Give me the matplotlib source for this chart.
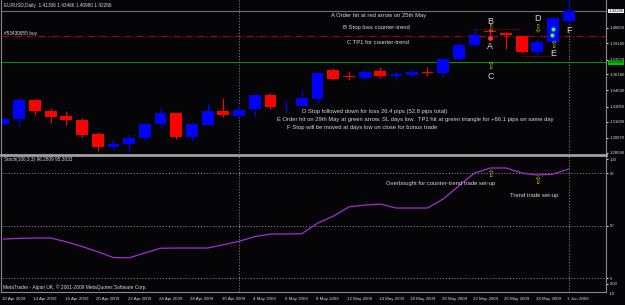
import matplotlib
matplotlib.use('Agg')
import matplotlib.pyplot as plt

plt.rcParams['font.family'] = ['Liberation Sans', 'DejaVu Sans']

# daily EURUSD bars, 10 Apr 2009 .. 1 Jun 2009
opens = [1.3138, 1.3186, 1.3369, 1.3263, 1.3215, 1.3176, 1.3042, 1.2916, 1.2945, 1.3003,
         1.3138, 1.3244, 1.3013, 1.3128, 1.3263, 1.3215, 1.3282, 1.3417, 1.3311, 1.3311,
         1.3379, 1.3658, 1.3600, 1.3585, 1.3645, 1.3600, 1.3610, 1.3640, 1.3629, 1.3764,
         1.3899, 1.4030, 1.4015, 1.3986, 1.3832, 1.3928, 1.41306]
highs = [1.3196, 1.3388, 1.3379, 1.3292, 1.3263, 1.3196, 1.3061, 1.2993, 1.3042, 1.3148,
         1.3292, 1.3250, 1.3157, 1.3340, 1.3388, 1.3321, 1.3420, 1.3437, 1.3369, 1.3475,
         1.3639, 1.3678, 1.3650, 1.3660, 1.3685, 1.3650, 1.3670, 1.3690, 1.3770, 1.3918,
         1.4053, 1.4053, 1.4024, 1.3995, 1.3957, 1.4169, 1.43466]
lows = [1.3128, 1.3119, 1.3224, 1.3148, 1.3128, 1.3013, 1.2878, 1.2897, 1.2878, 1.2984,
        1.3099, 1.2993, 1.2974, 1.3125, 1.3205, 1.3210, 1.3205, 1.3282, 1.3244, 1.3305,
        1.3340, 1.3562, 1.3560, 1.3560, 1.3580, 1.3560, 1.3590, 1.3600, 1.3591, 1.3755,
        1.3890, 1.3990, 1.3861, 1.3822, 1.3803, 1.3920, 1.40980]
closes = [1.3186, 1.3369, 1.3263, 1.3205, 1.3176, 1.3032, 1.2916, 1.2945, 1.3003, 1.3138,
          1.3244, 1.3013, 1.3138, 1.3263, 1.3224, 1.3273, 1.3417, 1.3302, 1.3313, 1.3388,
          1.3629, 1.3572, 1.3590, 1.3640, 1.3605, 1.3615, 1.3640, 1.3630, 1.3764, 1.3899,
          1.3995, 1.4020, 1.3995, 1.3832, 1.3928, 1.4159, 1.42266]

stoch = [38.4, 39.0, 39.3, 39.3, 36.0, 32.0, 27.5, 22.5, 22.3, 26.5,
         30.5, 30.7, 30.7, 30.7, 33.5, 36.5, 40.5, 42.7, 42.7, 43.0,
         52.0, 58.0, 66.0, 67.5, 68.4, 65.0, 65.0, 65.0, 72.7, 84.0,
         95.0, 99.3, 99.3, 95.0, 93.3, 94.1, 98.4]

date_labels = ['10 Apr 2009', '14 Apr 2009', '16 Apr 2009', '20 Apr 2009', '22 Apr 2009',
               '24 Apr 2009', '28 Apr 2009', '30 Apr 2009', '4 May 2009', '6 May 2009',
               '8 May 2009', '12 May 2009', '14 May 2009', '18 May 2009', '20 May 2009',
               '22 May 2009', '26 May 2009', '28 May 2009', '1 Jun 2009']

price_ticks = [1.40650, 1.39160, 1.37570, 1.36180, 1.34630, 1.33050, 1.31600, 1.30070, 1.28590]
bid = 1.42266
tp_line = 1.37325
order_line = 1.3986
stoch_levels = [95, 50, 5]

W, H = 625, 305
BG = '#050508'
GREY = '#8a8a8a'
TXT = '#d8d8d8'
R = 606  # right edge of the chart area in pixels


def fx(px):
    return px / W


def fy(py):
    return 1 - py / H


fig = plt.figure(figsize=(6.25, 3.05), dpi=100, facecolor=BG)
ax1 = fig.add_axes([fx(2), fy(153), fx(R - 2), 153 / H], facecolor=BG)
ax2 = fig.add_axes([fx(2), fy(292), fx(R - 2), (292 - 156) / H], facecolor=BG)

n = len(opens)
xs = list(range(n))
for ax in (ax1, ax2):
    ax.set_xlim(-0.1, (R - 2) / 15.7 - 0.1)
    for s in ax.spines.values():
        s.set_visible(False)
    ax.set_xticks([])
    ax.tick_params(axis='y', colors=TXT, labelsize=3.1, length=1.5, pad=1.0,
                   left=False, labelleft=False, right=True, labelright=True)
    # month separators
    ax.axvline(15, color=GREY, lw=0.6, ls=(0, (1.5, 2)))
    ax.axvline(36, color=GREY, lw=0.6, ls=(0, (1.5, 2)))

ax1.set_ylim(1.28586, 1.43326)
ax2.set_ylim(-7, 109.6)

# candles
for i in xs:
    o, h, l, c = opens[i], highs[i], lows[i], closes[i]
    col = '#0000ff' if c >= o else '#ff0000'
    ax1.vlines(i, l, h, color=col, lw=0.8, zorder=2)
    ax1.bar(i, max(abs(c - o), 0.0003), bottom=min(o, c), width=0.75,
            color=col, zorder=3)

# lines on the price chart
ax1.axhline(bid, color='#707070', lw=0.8, zorder=1)
ax1.axhline(order_line, color='#b00000', lw=0.8, ls=(0, (6, 2, 1, 2)), zorder=1)
ax1.axhline(tp_line, color='#00b000', lw=0.6, zorder=1)
ax1.hlines(1.4053, 30, 32.9, color='#c00000', lw=0.7, ls=(0, (1, 1.5)))
ax1.hlines(1.3793, 33, 34.9, color='#c00000', lw=0.7, ls=(0, (1, 1.5)))
ax1.plot([31], [1.3967], 'o', color='#ff3030', ms=2.5, zorder=5)
ax1.plot([35, 34.95], [1.4053, 1.3995], 'o', color='#40ff40', ms=2, zorder=5)

arrow_col = '#b8b800'
let = dict(color=TXT, fontsize=6.5, ha='center', va='center')
arr = dict(color=arrow_col, fontsize=7, ha='center', va='center', family='DejaVu Sans')
ax1.text(31, 1.4130, 'B', **let)
ax1.text(31, 1.4050, '⇩', **arr)
ax1.text(31, 1.3880, 'A', **let)
ax1.text(31, 1.3695, '⇧', **arr)
ax1.text(31, 1.3592, 'C', **let)
ax1.text(34, 1.4159, 'D', **let)
ax1.text(34, 1.4053, '⇩', **arr)
ax1.text(35, 1.3899, '⇧', **arr)
ax1.text(35, 1.3813, 'E', **let)
ax1.text(36, 1.4034, 'F', **let)

ann = dict(color=TXT, fontsize=4.25, va='center', ha='left')
fig.text(fx(331), fy(16), 'A Order hit at red arrow on 25th May', **ann)
fig.text(fx(343), fy(28), 'B Stop loss counter-trend', **ann)
fig.text(fx(347), fy(42), 'C TP1 for counter-trend', **ann)
fig.text(fx(302), fy(111), 'D Stop followed down for loss 26.4 pips (52.8 pips total)', **ann)
fig.text(fx(277), fy(119), 'E Order hit on 29th May at green arrow. SL days low.  '
         'TP1 hit at green triangle for +66.1 pips on same day', **ann)
fig.text(fx(287), fy(128), 'F Stop will be moved at days low on close for bonus trade', **ann)

small = dict(color=TXT, fontsize=3.4, va='center', ha='left')
fig.text(fx(4), fy(5), 'EURUSD,Daily  1.41306 1.43466 1.40980 1.42266', **small)
fig.text(fx(4), fy(33), '#53430955 buy', **small)
fig.text(fx(4), fy(159), 'Stoch(100,3,3) 96.2809 95.3833', **small)
fig.text(fx(3), fy(287), 'MetaTrader - Alpari UK, \u00a9 2001-2009 MetaQuotes Software Corp.',
         color=TXT, fontsize=3.5, va='center', ha='left')

# price scale
ax1.set_yticks(price_ticks)
ax1.set_yticklabels(['%.5f' % p for p in price_ticks])
ax1.text(1.004, bid, '%.5f' % bid, transform=ax1.get_yaxis_transform(), color='black',
         fontsize=3.1, va='center', ha='left',
         bbox=dict(boxstyle='square,pad=0.1', fc='white', ec='none'))
ax1.text(1.004, tp_line, '%.5f' % tp_line, transform=ax1.get_yaxis_transform(),
         color='black', fontsize=3.1, va='center', ha='left',
         bbox=dict(boxstyle='square,pad=0.1', fc='#00c000', ec='none'))

# stochastic
for lv in stoch_levels:
    ax2.axhline(lv, color=GREY, lw=0.6, ls=(0, (1.5, 2)))
ax2.plot(xs, stoch, color='#a030d0', lw=0.9)
ax2.set_yticks([107, 95, 50, 5, 0])
ax2.set_yticklabels(['100', '95', '50', '5', '0.00'])
fig.text(fx(R + 3), fy(294), '-10', color=TXT, fontsize=3.1, va='center', ha='left')

fig.text(fx(386), fy(184), 'Overbought for counter-trend trade set-up', **ann)
fig.text(fx(510), fy(195), 'Trend trade set-up', **ann)
ax2.text(31, 94.5, '⇧', **arr)
ax2.text(34, 88.5, '⇧', **arr)

# date axis
for k, lab in enumerate(date_labels):
    xp = 2 + 15.7 * 2 * k
    fig.text(fx(xp), fy(299), lab, color=TXT, fontsize=3.2, ha='left', va='center')

# frame lines
fig.add_artist(plt.Line2D([fx(1), fx(1)], [fy(0), fy(292)], color=GREY, lw=0.8))
fig.add_artist(plt.Line2D([fx(R), fx(R)], [fy(0), fy(292)], color=GREY, lw=0.8))
fig.add_artist(plt.Line2D([fx(1), fx(R)], [fy(154.5), fy(154.5)], color='#a0a0a0', lw=2))
fig.add_artist(plt.Line2D([fx(1), fx(R)], [fy(292), fy(292)], color=GREY, lw=0.8))

fig.savefig('out.png', dpi=100, facecolor=BG)
plt.close()
